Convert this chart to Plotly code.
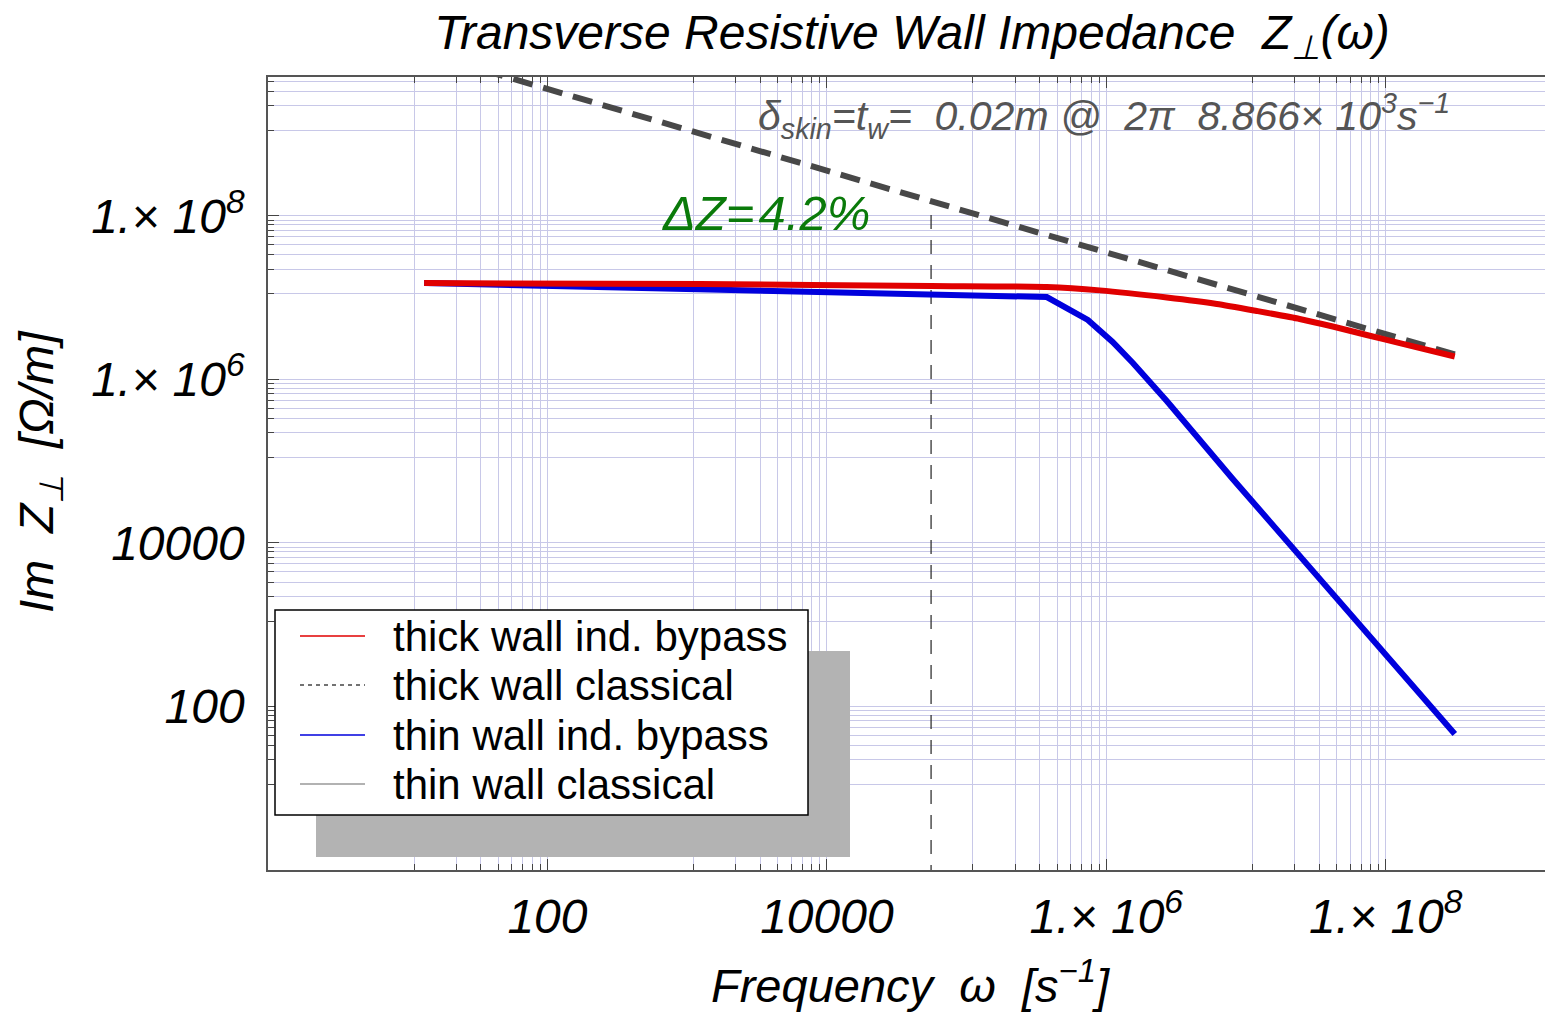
import plotly.graph_objects as go

# ---------------- data ----------------
omega_thick_bypass = [13.1, 1234, 5.55e4, 3.75e5, 8.98e5, 2.71e6, 6.18e6, 1.19e7,
                      2.42e7, 4.18e7, 7.31e7, 1.26e8, 3.12e8]
z_thick_bypass = [1.51e7, 1.47e7, 1.39e7, 1.35e7, 1.23e7, 1.007e7, 8.39e6, 6.89e6,
                  5.50e6, 4.45e6, 3.50e6, 2.79e6, 1.91e6]

omega_thick_classical = [13.1, 3.12e8]
z_thick_classical = [9.9e9, 2.03e6]

omega_thin_bypass = [13.1, 3.75e5, 7.38e5, 1.11e6, 1.55e6, 2.71e6, 8.04e6, 2.35e7, 3.12e8]
z_thin_bypass = [1.51e7, 1.02e7, 5.35e6, 2.88e6, 1.59e6, 5.46e5, 6.07e4, 7.33e3, 46.1]

omega_skin = [55707, 55707]          # 2*pi*8.866e3 s^-1
z_skin = [1.03e8, 1.0]

legend_names = ["thick wall ind. bypass", "thick wall classical",
                "thin wall ind. bypass", "thin wall classical"]
legend_colors = ["#e00000", "#444444", "#0000dd", "#999999"]
legend_dashes = ["solid", "dash", "solid", "solid"]

x_tickvals = [1e2, 1e4, 1e6, 1e8]
x_ticktext = ["100", "10000", "1.× 10<sup>6</sup>", "1.× 10<sup>8</sup>"]
y_tickvals = [1e2, 1e4, 1e6, 1e8]
y_ticktext = ["100", "10000", "1.× 10<sup>6</sup>", "1.× 10<sup>8</sup>"]

# grid lines: nine lines per cluster ending at every second decade
x_grid = [j / 9 * 10 ** d for d in (2, 4, 6, 8) for j in range(1, 10)]
y_grid = [j / 9 * 10 ** d for d in (2, 4, 6, 8, 10) for j in range(1, 10)]

# ---------------- layout helpers ----------------
W, H = 1545, 1014
L, R, T, B = 268, 1545, 77, 870


def px(x):
    return (x - L) / (R - L)


def py(y):
    return (B - y) / (B - T)


NARROW = "Liberation Sans Narrow, Arial Narrow, Liberation Sans, Arial, sans-serif"
NORMAL = "Liberation Sans, Arial, Helvetica, sans-serif"

fig = go.Figure()

fig.add_trace(go.Scatter(x=omega_skin, y=z_skin, mode="lines",
                         line=dict(color="#333333", width=1.3, dash="14px,11px"),
                         showlegend=False, hoverinfo="skip"))
fig.add_trace(go.Scatter(x=omega_thick_classical, y=z_thick_classical, mode="lines",
                         name=legend_names[1],
                         line=dict(color="#484848", width=6, dash="20px,11px"),
                         showlegend=False))
fig.add_trace(go.Scatter(x=omega_thin_bypass, y=z_thin_bypass, mode="lines",
                         name=legend_names[2],
                         line=dict(color="#0000dd", width=6),
                         showlegend=False))
fig.add_trace(go.Scatter(x=omega_thick_bypass, y=z_thick_bypass, mode="lines",
                         name=legend_names[0],
                         line=dict(color="#e00000", width=6, shape="spline", smoothing=0.6),
                         showlegend=False))

shapes = []
annotations = []

# legend shadow + box
shapes.append(dict(type="rect", xref="paper", yref="paper",
                   x0=px(316), x1=px(850), y0=py(857), y1=py(651),
                   fillcolor="#b3b3b3", line=dict(width=0), layer="above"))
shapes.append(dict(type="rect", xref="paper", yref="paper",
                   x0=px(275), x1=px(808), y0=py(815), y1=py(610),
                   fillcolor="white", line=dict(color="black", width=1.5), layer="above"))
entry_y = [636, 685, 735, 784]
for name, col, dsh, yy in zip(legend_names, legend_colors, legend_dashes, entry_y):
    shapes.append(dict(type="line", xref="paper", yref="paper",
                       x0=px(300), x1=px(365), y0=py(yy), y1=py(yy),
                       line=dict(color=col, width=1.4,
                                 dash="4px,4px" if dsh == "dash" else "solid"),
                       layer="above"))
    annotations.append(dict(xref="paper", yref="paper", x=px(391), y=py(yy),
                            xanchor="left", yanchor="middle", text=name, showarrow=False,
                            font=dict(family=NORMAL, size=42, color="black")))

# annotations in the plot
annotations.append(dict(xref="paper", yref="paper", x=px(756), y=py(116),
                        xanchor="left", yanchor="middle", showarrow=False,
                        text="δ<sub>skin</sub>=t<sub>w</sub>=\u00a0 0.02m @\u00a0 2π\u00a0 8.866× 10<sup>3</sup>s<sup>−1</sup>",
                        font=dict(family=NORMAL, size=41, color="#555555", style="italic")))
annotations.append(dict(xref="paper", yref="paper", x=px(660), y=py(213),
                        xanchor="left", yanchor="middle", showarrow=False,
                        text="ΔZ=\u200a4.2%",
                        font=dict(family=NORMAL, size=49, color="#0a7a0a", style="italic")))

# axis titles
annotations.append(dict(xref="paper", yref="paper", x=px(910), y=py(982),
                        xanchor="center", yanchor="middle", showarrow=False,
                        text="Frequency\u00a0 ω\u00a0 [s<sup>−1</sup>]",
                        font=dict(family=NARROW, size=47, color="black", style="italic")))
annotations.append(dict(xref="paper", yref="paper", x=px(40), y=py(472),
                        xanchor="center", yanchor="middle", showarrow=False, textangle=-90,
                        text="Im\u00a0 Z<sub>⊥</sub>\u00a0 [Ω/m]",
                        font=dict(family=NARROW, size=48, color="black", style="italic")))

axis_common = dict(type="log", showgrid=False, zeroline=False, ticks="inside",
                   ticklen=11, tickwidth=1.3, tickcolor="#444444",
                   showline=True, linecolor="#555555", linewidth=1.5,
                   tickmode="array")

GRID = "#c8c8e8"

fig.update_layout(
    width=W, height=H,
    margin=dict(l=L, r=W - R, t=T, b=H - B, autoexpand=False),
    paper_bgcolor="white", plot_bgcolor="white",
    title=dict(text="Transverse Resistive Wall Impedance\u00a0 Z<sub>⊥</sub>(ω)",
               xref="container", yref="container", x=912 / W, y=1 - 32 / H,
               xanchor="center", yanchor="middle",
               font=dict(family=NARROW, size=48, color="black", style="italic")),
    xaxis=dict(**axis_common, range=[0, 9.14], mirror="ticks",
               tickvals=x_tickvals, ticktext=x_ticktext, ticklabelstandoff=4,
               tickfont=dict(family=NARROW, size=48, color="black", style="italic"),
               minor=dict(tickmode="array", tickvals=x_grid, ticks="inside", ticklen=6,
                          tickcolor="#444444", showgrid=True, gridcolor=GRID, gridwidth=1)),
    yaxis=dict(**axis_common, range=[0, 9.70], mirror=False,
               tickvals=y_tickvals, ticktext=y_ticktext, ticklabelstandoff=12,
               tickfont=dict(family=NARROW, size=48, color="black", style="italic"),
               minor=dict(tickmode="array", tickvals=y_grid, ticks="inside", ticklen=6,
                          tickcolor="#444444", showgrid=True, gridcolor=GRID, gridwidth=1)),
    shapes=shapes,
    annotations=annotations,
    showlegend=False,
)

fig.write_html("out.html")
